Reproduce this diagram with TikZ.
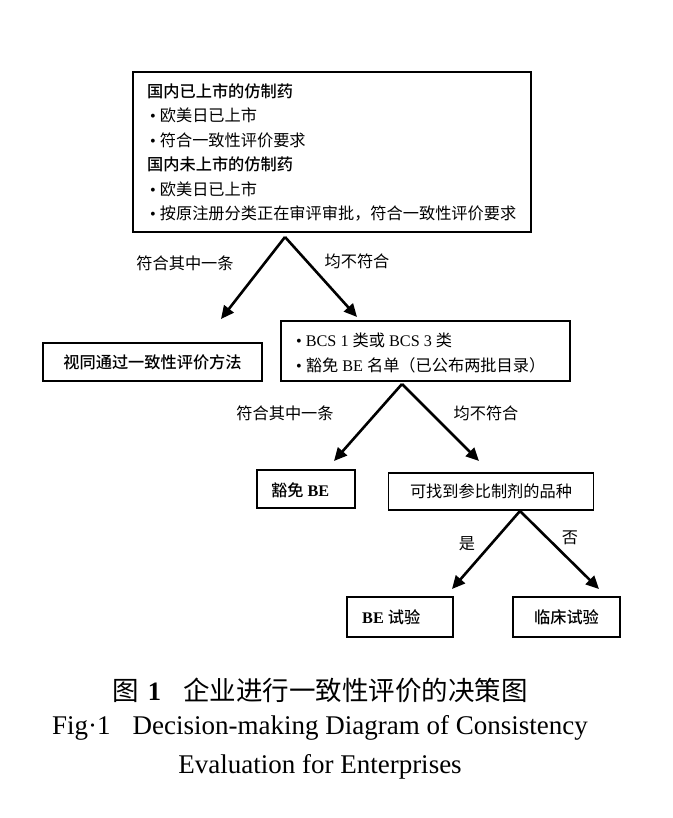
\documentclass[tikz,border=0pt]{standalone}
\usepackage{fontspec}
\setmainfont{Liberation Serif}
\newfontfamily\cjk{Noto Sans CJK SC}[BoldFont={Noto Sans CJK SC Medium}]
\newcommand\zh[1]{{\cjk #1}}
\newcommand\zhb[1]{{\cjk\bfseries #1}}
\usetikzlibrary{arrows.meta}
\begin{document}
\begin{tikzpicture}[x=1pt,y=-1pt,
  box/.style={draw,line width=1.3pt,inner sep=0pt},
  arr/.style={line width=2.6pt,-{Triangle[length=13pt,width=12pt]}},
  txt/.style={font=\fontsize{16.2}{19}\selectfont,inner sep=0pt,anchor=west},
  lbl/.style={font=\fontsize{16.2}{19}\selectfont,inner sep=0pt}]
\useasboundingbox (0,0) rectangle (672,818);
% boxes
\node[box,minimum width=398pt,minimum height=160pt] (top) at (332,152) {};
\node[box,minimum width=219pt,minimum height=38pt] (same) at (152.5,362) {};
\node[box,minimum width=289pt,minimum height=60pt] (bcs) at (425.5,351) {};
\node[box,minimum width=98pt,minimum height=38pt] (exempt) at (306,489) {};
\node[box,minimum width=205pt,minimum height=37pt] (ref) at (491,491.5) {};
\node[box,minimum width=106pt,minimum height=40pt] (be) at (400,617) {};
\node[box,minimum width=107pt,minimum height=40pt] (clin) at (566.5,617) {};
% top box text
\node[txt] (t1) at (147,91) {\zhb{国内已上市的仿制药}};
\node[txt] (t2) at (150,115.5) {•\hspace{4pt}\zh{欧美日已上市}};
\node[txt] (t3) at (150,140) {•\hspace{4pt}\zh{符合一致性评价要求}};
\node[txt] (t4) at (147,164.5) {\zhb{国内未上市的仿制药}};
\node[txt] (t5) at (150,189) {•\hspace{4pt}\zh{欧美日已上市}};
\node[txt] (t6) at (150,213.5) {•\hspace{4pt}\zh{按原注册分类正在审评审批，符合一致性评价要求}};
% other box texts
\node[lbl] (same-t) at (same) {\zhb{视同通过一致性评价方法}};
\node[txt] (b1) at (296,340) {•\hspace{4pt}BCS 1 \zh{类或} BCS 3 \zh{类}};
\node[txt] (b2) at (296,365) {•\hspace{4pt}\zh{豁免} BE \zh{名单（已公布两批目录）}};
\node[txt] (ex-t) at (271,490) {\zhb{豁免} \textbf{BE}};
\node[lbl] (ref-t) at (ref) {\zh{可找到参比制剂的品种}};
\node[txt] (be-t) at (362,617) {\textbf{BE} \zhb{试验}};
\node[lbl] (clin-t) at (clin) {\zhb{临床试验}};
% connectors
\coordinate (a1) at (285,237);
\coordinate (e1l) at (221,319);
\coordinate (e1r) at (357,317);
\coordinate (a2) at (402,384);
\coordinate (e2l) at (334,461);
\coordinate (e2r) at (479,461);
\coordinate (a3) at (520,511);
\coordinate (e3l) at (452,589);
\coordinate (e3r) at (599,589);
\draw[arr] (a1) -- (e1l);
\draw[arr] (a1) -- (e1r);
\draw[arr] (a2) -- (e2l);
\draw[arr] (a2) -- (e2r);
\draw[arr] (a3) -- (e3l);
\draw[arr] (a3) -- (e3r);
% labels
\node[lbl] (l1) at (185,263) {\zh{符合其中一条}};
\node[lbl] (l2) at (357,261) {\zh{均不符合}};
\node[lbl] (l3) at (285,413) {\zh{符合其中一条}};
\node[lbl] (l4) at (486,413) {\zh{均不符合}};
\node[lbl] (l5) at (467,544) {\zh{是}};
\node[lbl] (l6) at (570,538) {\zh{否}};
% caption
\node[inner sep=0pt,font=\fontsize{26.5}{30}\selectfont] (cap1) at (320,690) {\zh{图}\hspace{9pt}\textbf{1}\hspace{22pt}\zh{企业进行一致性评价的决策图}};
\node[inner sep=0pt,font=\fontsize{27}{30}\selectfont] (cap2) at (320,728) {Fig·1\hspace{22pt}Decision-making Diagram of Consistency};
\node[inner sep=0pt,font=\fontsize{27}{30}\selectfont] (cap3) at (320,767) {Evaluation for Enterprises};
\end{tikzpicture}
\end{document}
